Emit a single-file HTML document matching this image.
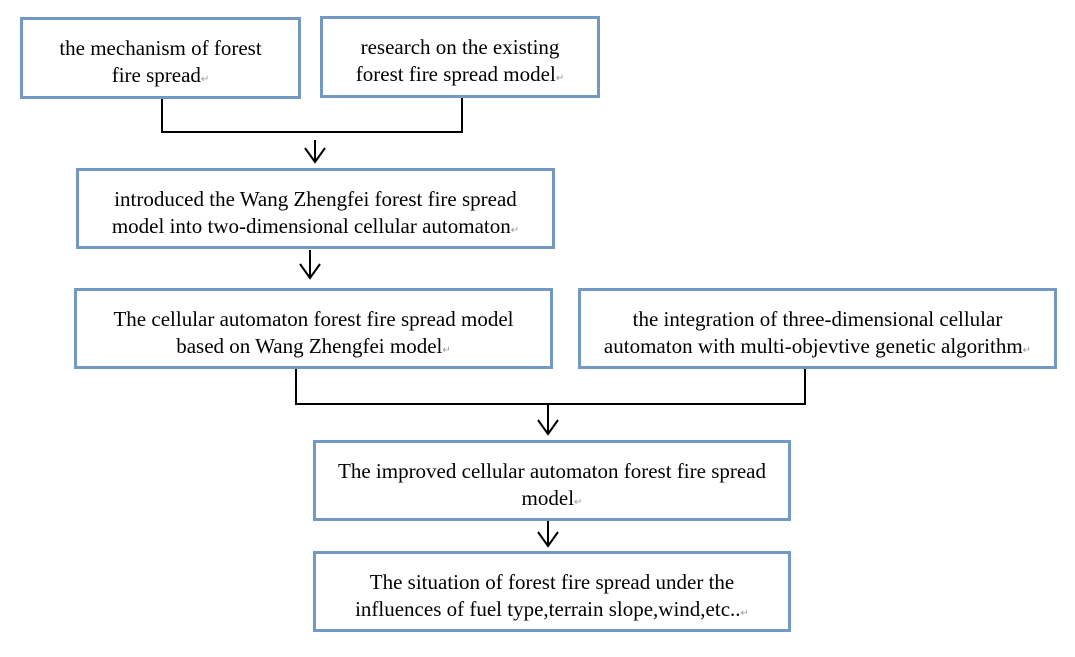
<!DOCTYPE html>
<html><head><meta charset="utf-8"><style>
body{margin:0;width:1075px;height:657px;background:#fff;position:relative;overflow:hidden}
.b{position:absolute;box-sizing:border-box;border:3px solid #7399c2;background:#fff;font-family:"Liberation Serif",serif;font-size:21px;line-height:27px;text-align:center;color:#000;padding-top:15px;white-space:nowrap}
.m{color:#999;font-size:10px}
svg{position:absolute;left:0;top:0}
</style></head><body>
<svg width="1075" height="657" stroke="#000" stroke-width="2" fill="none">
<polyline points="162,98 162,132 462,132 462,97"/>
<line x1="315" y1="140" x2="315" y2="162"/><polyline points="305,148 315,162 325,148"/>
<line x1="310" y1="250" x2="310" y2="278"/><polyline points="300,264 310,278 320,264"/>
<polyline points="296,368 296,404 805,404 805,368"/>
<line x1="548" y1="404" x2="548" y2="434"/><polyline points="538,420 548,434 558,420"/>
<line x1="548" y1="520" x2="548" y2="546"/><polyline points="538,532 548,546 558,532"/>
</svg>
<div class="b" style="left:20px;top:17px;width:281px;height:82px">the mechanism of forest<br>fire spread<span class="m">↵</span></div>
<div class="b" style="left:320px;top:16px;width:280px;height:82px">research on the existing<br>forest fire spread model<span class="m">↵</span></div>
<div class="b" style="left:76px;top:168px;width:479px;height:81px">introduced the Wang Zhengfei forest fire spread<br>model into two-dimensional cellular automaton<span class="m">↵</span></div>
<div class="b" style="left:74px;top:288px;width:479px;height:81px">The cellular automaton forest fire spread model<br>based on Wang Zhengfei model<span class="m">↵</span></div>
<div class="b" style="left:578px;top:288px;width:479px;height:81px">the integration of three-dimensional cellular<br>automaton with multi-objevtive genetic algorithm<span class="m">↵</span></div>
<div class="b" style="left:313px;top:440px;width:478px;height:81px">The improved cellular automaton forest fire spread<br>model<span class="m">↵</span></div>
<div class="b" style="left:313px;top:551px;width:478px;height:81px">The situation of forest fire spread under the<br>influences of fuel type,terrain slope,wind,etc..<span class="m">↵</span></div>
</body></html>
